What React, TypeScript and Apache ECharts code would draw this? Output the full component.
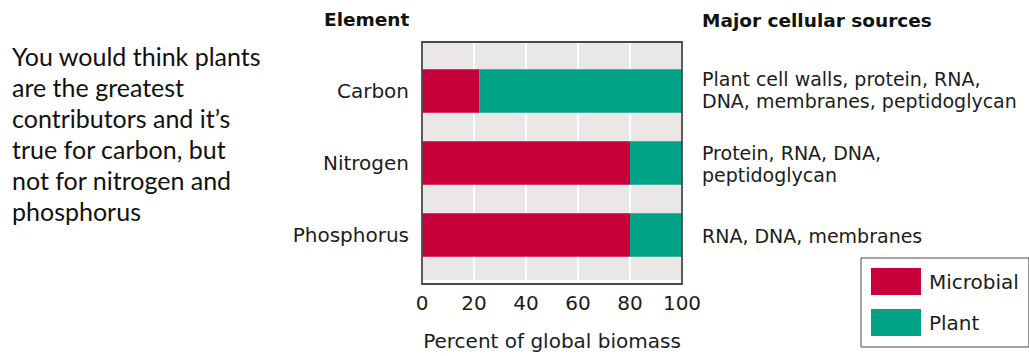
import React, { useEffect, useRef } from "react";
import * as echarts from "echarts";

const categories = ["Carbon", "Nitrogen", "Phosphorus"];
const microbial = [22, 80, 80];
const plant = [78, 20, 20];
const xTicks = [0, 20, 40, 60, 80, 100];
const sources = [
  "Plant cell walls, protein, RNA,\nDNA, membranes, peptidoglycan",
  "Protein, RNA, DNA,\npeptidoglycan",
  "RNA, DNA, membranes",
];
const sideNote =
  "You would think plants\nare the greatest\ncontributors and it\u2019s\ntrue for carbon, but\nnot for nitrogen and\nphosphorus";

const RED = "#c7003b";
const TEAL = "#00a388";
const TXT = "#1c1c1c";
const FONT = "DejaVu Sans";

export default function App() {
  const ref = useRef<HTMLDivElement>(null);
  useEffect(() => {
    if (!ref.current) return;
    const chart = echarts.init(ref.current, undefined, { renderer: "svg" });
    const sourceY = [79, 153, 236];
    chart.setOption({
      animation: false,
      backgroundColor: "#ffffff",
      textStyle: { fontFamily: FONT },
      grid: [
        {
          left: 422,
          top: 42,
          width: 260,
          height: 242,
          show: true,
          backgroundColor: "#e9e8e6",
          borderWidth: 0,
        },
        { left: 422, top: 55, width: 260, height: 216 },
      ],
      xAxis: [
        {
          gridIndex: 0,
          type: "value",
          min: xTicks[0],
          max: xTicks[xTicks.length - 1],
          interval: 20,
          axisLine: { show: false },
          axisTick: { show: false },
          axisLabel: { fontSize: 20, color: TXT, margin: 13, fontFamily: FONT },
          splitLine: { show: true, lineStyle: { color: "#ffffff", width: 2 } },
          name: "Percent of global biomass",
          nameLocation: "middle",
          nameGap: 51,
          nameTextStyle: { fontSize: 20, color: TXT, fontFamily: FONT },
        },
        {
          gridIndex: 1,
          type: "value",
          min: 0,
          max: 100,
          show: false,
        },
      ],
      yAxis: [
        { gridIndex: 0, type: "value", show: false, splitLine: { show: false } },
        {
          gridIndex: 1,
          type: "category",
          data: categories,
          inverse: true,
          axisLine: { show: false },
          axisTick: { show: false },
          axisLabel: { fontSize: 20, color: TXT, margin: 13, fontFamily: FONT },
          splitLine: { show: false },
        },
      ],
      legend: {
        orient: "vertical",
        left: 861,
        top: 258,
        itemWidth: 50,
        itemHeight: 27,
        itemGap: 14,
        padding: [10, 10, 11, 10],
        borderColor: "#4a4a4a",
        borderWidth: 1,
        icon: "rect",
        textStyle: { fontSize: 20, color: TXT, fontFamily: FONT, padding: [0, 0, 0, 3] },
        data: ["Microbial", "Plant"],
      },
      graphic: [
        {
          type: "rect",
          z: 100,
          shape: { x: 422, y: 42, width: 260, height: 242 },
          style: { fill: "rgba(0,0,0,0)", stroke: "#4a4a4a", lineWidth: 1.8 },
        },
        {
          type: "text",
          left: 324,
          top: 10,
          style: { text: "Element", font: `bold 18.5px "${FONT}"`, fill: "#111" },
        },
        {
          type: "text",
          left: 702,
          top: 11,
          style: { text: "Major cellular sources", font: `bold 18.5px "${FONT}"`, fill: "#111" },
        },
        ...sources.map((s, i) => ({
          type: "text",
          x: 702,
          y: sourceY[i] - 11,
          style: {
            text: s,
            font: `19px "${FONT}"`,
            fill: TXT,
            lineHeight: 22,
            verticalAlign: "top",
          },
        })),
        {
          type: "text",
          x: 12,
          y: 40,
          style: {
            text: sideNote,
            font: `25px "Lato"`,
            fill: "#111",
            lineHeight: 31,
            verticalAlign: "top",
          },
        },
      ],
      series: [
        {
          name: "Microbial",
          type: "bar",
          stack: "total",
          xAxisIndex: 1,
          yAxisIndex: 1,
          barWidth: 43.5,
          itemStyle: { color: RED },
          data: microbial,
        },
        {
          name: "Plant",
          type: "bar",
          stack: "total",
          xAxisIndex: 1,
          yAxisIndex: 1,
          barWidth: 43.5,
          itemStyle: { color: TEAL },
          data: plant,
        },
      ],
    });
    return () => chart.dispose();
  }, []);
  return (
    <div
      ref={ref}
      style={{ position: "fixed", left: 0, top: 0, width: 1029, height: 356 }}
    />
  );
}
